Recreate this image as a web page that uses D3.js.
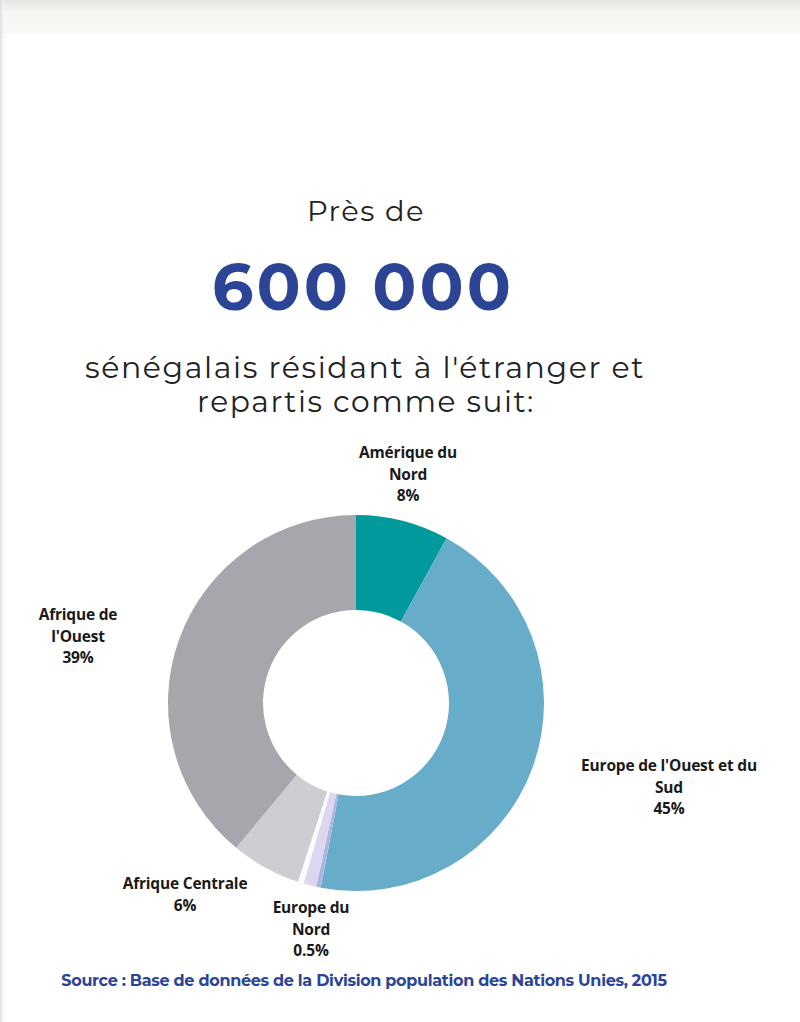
<!DOCTYPE html>
<html><head><meta charset="utf-8">
<script src="https://cdn.jsdelivr.net/npm/d3@7"></script>
<style>body{margin:0;background:#fff}svg{display:block}</style>
</head><body><svg id="c" width="800" height="1022"></svg>
<script>
const regions = ["Amérique du Nord","Europe de l'Ouest et du Sud","Europe de l'Est","Autres","Europe du Nord","Afrique Centrale","Afrique de l'Ouest"];
const shares = [8, 45, 0.4, 1.1, 0.5, 6, 39];
const colors = ["#00999c","#67adc9","#a9b6de","#dcd7ef","#fbfaff","#cdcdd2","#a6a7ac"];
const labelLines = [["Amérique du","Nord","8%"],["Europe de l'Ouest et du","Sud","45%"],null,null,["Europe du","Nord","0.5%"],["Afrique Centrale","6%"],["Afrique de","l'Ouest","39%"]];
const labelPos = [[408,458],[669,771],null,null,[311,913],[185,889],[78,620]];

const svg = d3.select("#c");
const defs = svg.append("defs");
const g1 = defs.append("linearGradient").attr("id","tb").attr("x1",0).attr("x2",0).attr("y1",0).attr("y2",1);
g1.append("stop").attr("offset",0).attr("stop-color","#e4e3df");
g1.append("stop").attr("offset",0.35).attr("stop-color","#f7f6f2");
g1.append("stop").attr("offset",1).attr("stop-color","#f8f7f3");
const g2 = defs.append("linearGradient").attr("id","lb").attr("x1",0).attr("x2",1);
g2.append("stop").attr("offset",0).attr("stop-color","#dcdcdc");
g2.append("stop").attr("offset",1).attr("stop-color","#ffffff").attr("stop-opacity",0);
svg.append("rect").attr("x",0).attr("y",0).attr("width",800).attr("height",34).attr("fill","url(#tb)");
svg.append("rect").attr("x",0).attr("y",0).attr("width",6).attr("height",1022).attr("fill","url(#lb)");

const title = "Montserrat, 'Open Sans', 'DejaVu Sans', sans-serif";
function fitText(sel, w){ for(let k=0;k<3;k++){ const l=sel.node().getComputedTextLength(); const fs=parseFloat(sel.attr("font-size")); sel.attr("font-size", fs*w/l); } }

const t1 = svg.append("text").attr("x",366).attr("y",221).attr("text-anchor","middle").attr("font-family",title).attr("font-size",26).attr("letter-spacing","1.5px").attr("fill","#222").text("Près de");
fitText(t1,118);
const t2 = svg.append("text").attr("x",363).attr("y",310).attr("text-anchor","middle").attr("font-family",title).attr("font-weight",700).attr("font-size",62).attr("letter-spacing","3px").attr("fill","#2b4496").text("600 000");
fitText(t2,302);
const t3 = svg.append("text").attr("x",365).attr("y",378).attr("text-anchor","middle").attr("font-family",title).attr("font-size",27).attr("letter-spacing","1.6px").attr("fill","#222").text("sénégalais résidant à l'étranger et");
fitText(t3,560);
const t4 = svg.append("text").attr("x",366).attr("y",412).attr("text-anchor","middle").attr("font-family",title).attr("font-size",27).attr("letter-spacing","1.6px").attr("fill","#222").text("repartis comme suit:");
fitText(t4,338);

const cx=356, cy=703;
const pie = d3.pie().sort(null).value(d=>d);
const arc = d3.arc().innerRadius(93).outerRadius(188);
svg.append("g").attr("transform",`translate(${cx},${cy})`)
  .selectAll("path").data(pie(shares)).join("path")
  .attr("d",arc).attr("fill",(d,i)=>colors[i]);

const lab = svg.append("g").attr("font-family","'Open Sans', sans-serif").attr("font-weight",700).attr("font-size",15.5).attr("fill","#1a1a1a").attr("text-anchor","middle");
regions.forEach((r,i)=>{
  if(!labelLines[i]) return;
  const t = lab.append("text").attr("x",labelPos[i][0]).attr("y",labelPos[i][1]).attr("letter-spacing","-0.2px");
  labelLines[i].forEach((s,j)=>t.append("tspan").attr("x",labelPos[i][0]).attr("dy", j?21.5:0).text(s));
});

const src = svg.append("text").attr("x",364).attr("y",986).attr("text-anchor","middle").attr("font-family","Montserrat, 'Open Sans', sans-serif").attr("font-weight",700).attr("font-size",14).attr("fill","#2b4496").attr("letter-spacing","-0.3px").text("Source : Base de données de la Division population des Nations Unies, 2015");
fitText(src,605);
</script></body></html>
